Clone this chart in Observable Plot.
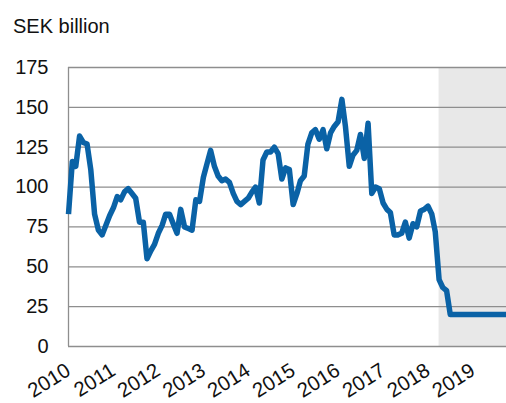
<!DOCTYPE html>
<html>
<head>
<meta charset="utf-8">
<script src="https://cdn.jsdelivr.net/npm/d3@7"></script>
<script src="https://cdn.jsdelivr.net/npm/@observablehq/plot@0.6"></script>
<style>
  html, body { margin: 0; padding: 0; background: #fff; }
  #wrap { width: 506px; height: 403px; overflow: hidden; font-family: "Liberation Sans", Arial, sans-serif; }
  #title { height: 45px; box-sizing: border-box; padding: 16px 0 0 13px; font-size: 20px; line-height: 20px; color: #111; }
  #chart svg { display: block; }
</style>
</head>
<body>
<div id="wrap">
  <div id="title">SEK billion</div>
  <div id="chart"></div>
</div>
<script>
// Monthly values (SEK billion), starting January 2010
const startYear = 2010;
const values = [
  83, 116, 113, 132, 128, 127, 111, 83, 73, 70, 76, 82,
  87, 94, 92, 97, 99, 96, 93, 78, 78, 55, 60, 64,
  71, 76, 83, 83, 77, 71, 86, 75, 74, 73, 92, 91,
  106, 115, 123, 113, 107, 104, 105, 103, 96, 91, 89, 91,
  93, 97, 100, 90, 117, 122, 122, 125, 121, 105, 112, 111,
  89, 96, 104, 107, 127, 134, 136, 130, 136, 124, 134, 138,
  141, 155, 138, 113, 120, 123, 133, 118, 140, 96, 100, 99,
  90, 86, 84, 70, 70, 71, 78, 68, 77, 75, 85, 86,
  88, 83, 72, 42, 37, 35, 20, 20, 20, 20, 20, 20,
  20, 20, 20, 20, 20, 20, 20, 20, 20, 20
];
const yearTicks = [2010, 2011, 2012, 2013, 2014, 2015, 2016, 2017, 2018, 2019];
const yTicks = [0, 25, 50, 75, 100, 125, 150, 175];
const forecastStart = [2018, 3];   // year, month index (April 2018)
const domainEnd = [2019, 9];        // October 2019

const data = values.map((v, i) => ({date: new Date(Date.UTC(startYear, i, 1)), value: v}));
const xStart = new Date(Date.UTC(startYear, 0, 1));
const xEnd = new Date(Date.UTC(domainEnd[0], domainEnd[1], 1));
const fStart = new Date(Date.UTC(forecastStart[0], forecastStart[1], 1));
const yearDates = yearTicks.map(y => ({date: new Date(Date.UTC(y, 0, 1)), label: String(y)}));

const chart = Plot.plot({
  width: 506,
  height: 358,
  marginTop: 22,
  marginBottom: 57,
  marginLeft: 68,
  marginRight: 0,
  style: {fontFamily: "Liberation Sans, Arial, sans-serif", fontSize: "20px", color: "#111", background: "#fff", overflow: "visible"},
  x: {type: "utc", domain: [xStart, xEnd], axis: null},
  y: {domain: [0, 175], axis: null},
  marks: [
    Plot.rect([{x1: fStart, x2: xEnd}], {x1: "x1", x2: "x2", y1: 0, y2: 175, fill: "#e8e8e8"}),
    Plot.ruleY(yTicks, {stroke: "#8e8e8e", strokeWidth: 1.3}),
    Plot.ruleX([xStart], {y1: 0, y2: 175, stroke: "#8e8e8e", strokeWidth: 1.3}),
    Plot.axisY(yTicks, {tickSize: 0, tickPadding: 20, label: null, fontSize: 20}),
    Plot.text(yearDates, {
      x: "date", y: 0, text: "label", rotate: -32, textAnchor: "end", lineAnchor: "middle",
      dy: 22, fontSize: 20.5, fill: "#111"
    }),
    Plot.line(data, {x: "date", y: "value", stroke: "#0a62a6", strokeWidth: 5.5, strokeLinejoin: "round", strokeLinecap: "butt"})
  ]
});
document.getElementById("chart").append(chart);
</script>
</body>
</html>
